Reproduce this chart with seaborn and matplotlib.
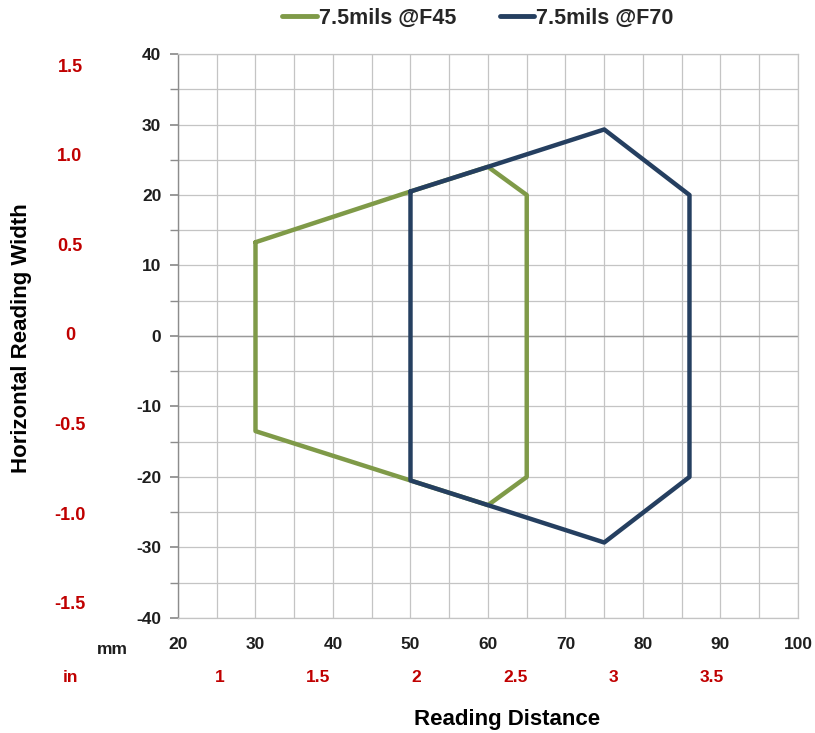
import matplotlib
matplotlib.use("Agg")
import matplotlib.pyplot as plt
import matplotlib.transforms as mtransforms
import numpy as np
import pandas as pd
import seaborn as sns

# reading-zone outlines (mm)
f45_x = [30, 50, 60, 65, 65, 60, 50, 30, 30]
f45_y = [13.3, 20.5, 24.0, 20.0, -20.0, -24.0, -20.5, -13.5, 13.3]
f70_x = [50, 60, 75, 86, 86, 75, 60, 50, 50]
f70_y = [20.5, 24.0, 29.3, 20.0, -20.0, -29.3, -24.0, -20.5, 20.5]

series_names = ["7.5mils @F45", "7.5mils @F70"]
series_colors = ["#7F9A48", "#253F60"]

x_mm_ticks = [20, 30, 40, 50, 60, 70, 80, 90, 100]
y_mm_ticks = [-40, -30, -20, -10, 0, 10, 20, 30, 40]
x_in_labels = ["1", "1.5", "2", "2.5", "3", "3.5"]
x_in_values = [1, 1.5, 2, 2.5, 3, 3.5]
y_in_labels = ["1.5", "1.0", "0.5", "0", "-0.5", "-1.0", "-1.5"]
y_in_values = [1.5, 1.0, 0.5, 0, -0.5, -1.0, -1.5]

df = pd.concat([
    pd.DataFrame({"x": f45_x, "y": f45_y, "series": series_names[0]}),
    pd.DataFrame({"x": f70_x, "y": f70_y, "series": series_names[1]}),
])

sns.set_theme(style="white")
plt.rcParams["font.family"] = ["Liberation Sans", "DejaVu Sans"]

fig = plt.figure(figsize=(8.15, 7.33), dpi=100)
ax = fig.add_axes([0.2184, 0.157, 0.7607, 0.7693])

grid_c = "#c4c4c4"
ax.axhline(0, color="#9a9a9a", lw=1.0, zorder=1)

sns.lineplot(
    data=df, x="x", y="y", hue="series", units="series", estimator=None, sort=False,
    palette=dict(zip(series_names, series_colors)), linewidth=3.2, ax=ax, legend=False, zorder=3,
)

ax.set_xlim(20, 100)
ax.set_ylim(-40, 40)
ax.set_xticks(np.arange(20, 101, 5), minor=True)
ax.set_xticks(x_mm_ticks, [str(v) for v in x_mm_ticks])
ax.set_yticks(np.arange(-40, 41, 5), minor=True)
ax.set_yticks(y_mm_ticks, [str(v) for v in y_mm_ticks])
ax.grid(True, which="both", color=grid_c, lw=0.9)
ax.set_axisbelow(True)

for s in ["top", "right", "bottom"]:
    ax.spines[s].set_color(grid_c)
    ax.spines[s].set_linewidth(0.9)
ax.spines["left"].set_color("#8c8c8c")
ax.spines["left"].set_linewidth(1.0)

ax.tick_params(axis="y", which="both", left=True, direction="out", length=6, color="#8c8c8c",
               labelsize=12.5, pad=6, labelcolor="#1e1e1e")
ax.tick_params(axis="x", which="both", bottom=False, length=0, labelsize=12.5, pad=14,
               labelcolor="#1e1e1e")
for lab in ax.get_xticklabels() + ax.get_yticklabels():
    lab.set_fontweight("bold")

ax.set_xlabel("")
ax.set_ylabel("")

red = "#C00000"
trans_y = mtransforms.blended_transform_factory(fig.transFigure, ax.transData)
for v, lab in zip(y_in_values, y_in_labels):
    ax.text(70 / 815, v * 25.4, lab, transform=trans_y, ha="center", va="center",
            color=red, fontsize=13, fontweight="bold")

trans_x = mtransforms.blended_transform_factory(ax.transData, fig.transFigure)
for v, lab in zip(x_in_values, x_in_labels):
    ax.text(v * 25.4, 1 - 678 / 733, lab, transform=trans_x, ha="center", va="center",
            color=red, fontsize=12.5, fontweight="bold")

fig.text(112 / 815, 1 - 650 / 733, "mm", ha="center", va="center", fontsize=12.5,
         fontweight="bold", color="#1e1e1e")
fig.text(70 / 815, 1 - 678 / 733, "in", ha="center", va="center", fontsize=12.5,
         fontweight="bold", color=red)

fig.text(22 / 815, 1 - 338 / 733, "Horizontal Reading Width", rotation=90, ha="center",
         va="center", fontsize=16, fontweight="bold", color="black")
fig.text(507 / 815, 1 - 720 / 733, "Reading Distance", ha="center", va="center",
         fontsize=16, fontweight="bold", color="black")

handles = [plt.Line2D([0], [0], color=c, lw=3.5) for c in series_colors]
fig.legend(handles, series_names, loc="center", bbox_to_anchor=(478 / 815, 1 - 18 / 733),
           ncol=2, frameon=False, prop={"weight": "bold", "size": 15.5}, handlelength=1.6,
           handletextpad=0.1, columnspacing=2.0)

fig.savefig("out.png", dpi=100)
